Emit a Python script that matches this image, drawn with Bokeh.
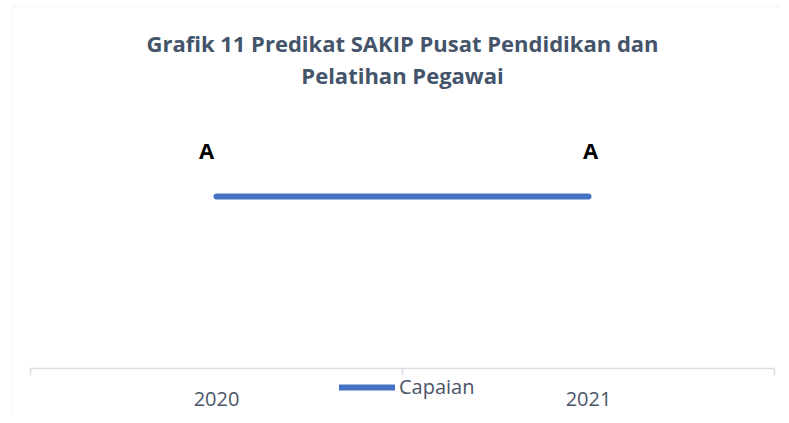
from bokeh.plotting import figure
from bokeh.models import FixedTicker, Range1d, ColumnDataSource, Legend, LegendItem, Label, BoxAnnotation
from bokeh.core.properties import value
from bokeh.embed import file_html
from bokeh.resources import INLINE

years = ["2020", "2021"]
scores = [4, 4]
grades = ["A", "A"]
title_lines = ["Grafik 11 Predikat SAKIP Pusat Pendidikan dan", "Pelatihan Pegawai"]
series_name = "Capaian"

# layout (pixels)
W, H = 781, 415
FRAME_L = 12
AX_L, AX_R = 30, 774      # where the category axis starts / ends
AX_Y, PX_PER_UNIT = 368, 43

n = len(years)
ux = (AX_R - AX_L) / n
xs = [i + 0.5 for i in range(n)]
src = ColumnDataSource(dict(x=xs, y=scores, t=grades, xo=[-10, 2]))

p = figure(width=W, height=H, output_backend="svg", toolbar_location=None,
           x_range=Range1d((FRAME_L - AX_L) / ux, (W - AX_L) / ux),
           y_range=Range1d(-(H - AX_Y) / PX_PER_UNIT, AX_Y / PX_PER_UNIT),
           min_border_left=FRAME_L, min_border_right=0, min_border_bottom=0, min_border_top=0)

p.outline_line_color = None
p.grid.visible = False
p.yaxis.visible = False

# chart-area border (light grey, top and left visible)
border = BoxAnnotation(left=FRAME_L, right=3000, top=6, bottom=3000,
                       left_units="canvas", right_units="canvas",
                       top_units="canvas", bottom_units="canvas",
                       fill_alpha=0, line_color="#e1e5ea", line_width=2)
p.add_layout(border)

title_style = dict(text_font="Open Sans", text_font_style="bold", text_font_size="22px",
                   text_color="#44546A", text_align="center", text_baseline="alphabetic")
for line, sy in zip(title_lines, [373, 341]):
    p.add_layout(Label(x=n / 2, y=sy, y_units="screen", text=line, **title_style))

ax = p.xaxis[0]
ax.fixed_location = 0
ax.bounds = (0, n)
ax.ticker = FixedTicker(ticks=xs, minor_ticks=list(range(n + 1)))
ax.major_label_overrides = {x: y for x, y in zip(xs, years)}
ax.major_tick_line_color = None
ax.minor_tick_line_color = "#d9dde3"
ax.minor_tick_out = 7
ax.minor_tick_in = 0
ax.minor_tick_line_width = 1.5
ax.axis_line_color = "#d9dde3"
ax.axis_line_width = 1.5
ax.major_label_text_font = "Open Sans"
ax.major_label_text_font_size = "20px"
ax.major_label_text_color = "#4a5568"
ax.major_label_standoff = 16

r = p.line("x", "y", source=src, line_color="#4472C4", line_width=6, line_cap="round")
p.text("x", "y", text="t", source=src, x_offset="xo", y_offset=-47,
       text_font=value("Open Sans"), text_font_style="bold", text_font_size="22px",
       text_color="#000000", text_align="center", text_baseline="middle")

legend = Legend(items=[LegendItem(label=series_name, renderers=[r])],
                location=(327, 15), orientation="horizontal",
                glyph_width=56, glyph_height=20, padding=0, margin=0, spacing=0,
                label_standoff=4, border_line_color=None, background_fill_alpha=0,
                label_text_font="Open Sans", label_text_font_size="20px",
                label_text_color="#4a5568")
p.add_layout(legend, "center")

open("out.html", "w").write(file_html(p, INLINE))
